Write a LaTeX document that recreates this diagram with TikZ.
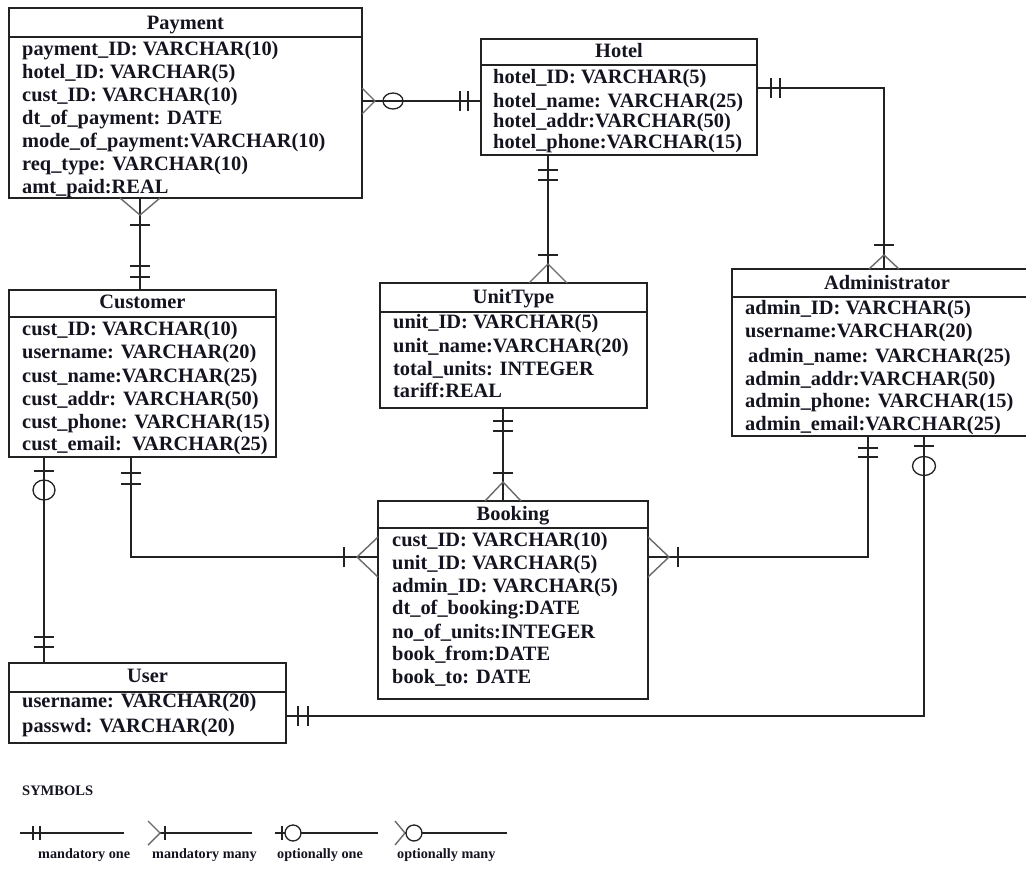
\documentclass[tikz,border=0pt]{standalone}
\usepackage{fontspec}
\setmainfont{Liberation Serif}
\definecolor{boxc}{HTML}{222222}
\definecolor{crowc}{HTML}{6A6A6A}
\definecolor{txt}{HTML}{141420}
\begin{document}
\begin{tikzpicture}[x=1pt,y=-1pt,
  box/.style={draw=boxc, line width=1.5pt, inner sep=0pt, outer sep=0pt, anchor=north west},
  sepline/.style={draw=boxc, line width=1.5pt},
  fld/.style={anchor=base west, inner sep=0pt, text=txt, font=\bfseries\fontsize{20.4}{23}\selectfont},
  ttl/.style={anchor=base, inner sep=0pt, text=txt, font=\bfseries\fontsize{20.4}{23}\selectfont},
  leg/.style={anchor=base west, inner sep=0pt, text=txt, font=\bfseries\fontsize{14.2}{16}\selectfont},
  conn/.style={draw=boxc, line width=1.3pt},
  crowline/.style={draw=crowc, line width=1.4pt},
  pics/crow/.style 2 args={code={\draw[crowline] (0,#1) -- (#2,0) -- (0,-#1);}},
  pics/bar/.style={code={\draw[conn] (#1,-10) -- (#1,10);}},
  pics/ring/.style n args={3}{code={\draw[conn] (#1,0) ellipse[x radius=#2pt, y radius=#3pt];}},
]
\clip (0,0) rectangle (1026,873);
\fill[white] (0,0) rectangle (1026,873);

% ---------- Payment ----------
\node[box, minimum width=353pt, minimum height=190pt] (pay) at (9,8) {};
\draw[sepline] (pay.west |- 0,37) -- (pay.east |- 0,37);
\node[ttl] (payT) at (pay.north |- 0,29) {Payment};
\node[fld] (pay1) at (22,55) {payment\_ID: VARCHAR(10)};
\node[fld] (pay2) at (22,78) {hotel\_ID: VARCHAR(5)};
\node[fld] (pay3) at (22,101) {cust\_ID: VARCHAR(10)};
\node[fld] (pay4) at (22,124) {dt\_of\_payment: DATE};
\node[fld] (pay5) at (22,147) {mode\_of\_payment:VARCHAR(10)};
\node[fld] (pay6) at (22,170) {req\_type: VARCHAR(10)};
\node[fld] (pay7) at (22,193) {amt\_paid:REAL};

% ---------- Hotel ----------
\node[box, minimum width=276pt, minimum height=116pt] (hot) at (481,39) {};
\draw[sepline] (hot.west |- 0,65) -- (hot.east |- 0,65);
\node[ttl] (hotT) at (hot.north |- 0,57) {Hotel};
\node[fld] (hot1) at (493,83) {hotel\_ID: VARCHAR(5)};
\node[fld] (hot2) at (493,107) {hotel\_name: VARCHAR(25)};
\node[fld] (hot3) at (493,127) {hotel\_addr:VARCHAR(50)};
\node[fld] (hot4) at (493,148) {hotel\_phone:VARCHAR(15)};

% ---------- UnitType ----------
\node[box, minimum width=267pt, minimum height=125pt] (uni) at (380,283) {};
\draw[sepline] (uni.west |- 0,312) -- (uni.east |- 0,312);
\node[ttl] (uniT) at (uni.north |- 0,303) {UnitType};
\node[fld] (uni1) at (393,328) {unit\_ID: VARCHAR(5)};
\node[fld] (uni2) at (393,352) {unit\_name:VARCHAR(20)};
\node[fld] (uni3) at (393,375) {total\_units: INTEGER};
\node[fld] (uni4) at (393,397) {tariff:REAL};

% ---------- Administrator ----------
\node[box, minimum width=314pt, minimum height=167pt] (adm) at (732,269) {};
\draw[sepline] (adm.west |- 0,297) -- (adm.east |- 0,297);
\node[ttl] (admT) at (887,289) {Administrator};
\node[fld] (adm1) at (745,314) {admin\_ID: VARCHAR(5)};
\node[fld] (adm2) at (745,337) {username:VARCHAR(20)};
\node[fld] (adm3) at (748,362) {admin\_name: VARCHAR(25)};
\node[fld] (adm4) at (745,385) {admin\_addr:VARCHAR(50)};
\node[fld] (adm5) at (745,407) {admin\_phone: VARCHAR(15)};
\node[fld] (adm6) at (745,430) {admin\_email:VARCHAR(25)};

% ---------- Customer ----------
\node[box, minimum width=267pt, minimum height=167pt] (cus) at (9,290) {};
\draw[sepline] (cus.west |- 0,317) -- (cus.east |- 0,317);
\node[ttl] (cusT) at (cus.north |- 0,308) {Customer};
\node[fld] (cus1) at (22,335) {cust\_ID: VARCHAR(10)};
\node[fld] (cus2) at (22,358) {username: VARCHAR(20)};
\node[fld] (cus3) at (22,382) {cust\_name:VARCHAR(25)};
\node[fld] (cus4) at (22,405) {cust\_addr: VARCHAR(50)};
\node[fld] (cus5) at (22,428) {cust\_phone: VARCHAR(15)};
\node[fld] (cus6) at (22,450) {cust\_email: \,VARCHAR(25)};

% ---------- Booking ----------
\node[box, minimum width=270pt, minimum height=198pt] (boo) at (378,501) {};
\draw[sepline] (boo.west |- 0,528) -- (boo.east |- 0,528);
\node[ttl] (booT) at (boo.north |- 0,520) {Booking};
\node[fld] (boo1) at (392,546) {cust\_ID: VARCHAR(10)};
\node[fld] (boo2) at (392,569) {unit\_ID: VARCHAR(5)};
\node[fld] (boo3) at (392,592) {admin\_ID: VARCHAR(5)};
\node[fld] (boo4) at (392,614) {dt\_of\_booking:DATE};
\node[fld] (boo5) at (392,638) {no\_of\_units:INTEGER};
\node[fld] (boo6) at (392,660) {book\_from:DATE};
\node[fld] (boo7) at (392,683) {book\_to: DATE};

% ---------- User ----------
\node[box, minimum width=277pt, minimum height=80pt] (usr) at (9,663) {};
\draw[sepline] (usr.west |- 0,692) -- (usr.east |- 0,692);
\node[ttl] (usrT) at (usr.north |- 0,682) {User};
\node[fld] (usr1) at (22,707) {username: VARCHAR(20)};
\node[fld] (usr2) at (22,732) {passwd: VARCHAR(20)};

% ---------- Connectors ----------
% Payment - Hotel
\coordinate (e1a) at (pay.east |- 0,101);
\coordinate (e1b) at (hot.west |- 0,101);
\draw[conn] (e1a) -- (e1b);
\pic at (e1a) {crow={13}{13}};
\pic at (e1a) {ring={31}{10}{8}};
\pic[rotate=180] at (e1b) {bar=13};
\pic[rotate=180] at (e1b) {bar=21};

% Payment - Customer
\coordinate (e2a) at (pay.south -| 140,0);
\coordinate (e2b) at (cus.north -| 140,0);
\draw[conn] (e2a) -- (e2b);
\pic[rotate=-90] at (e2a) {crow={20}{17}};
\pic[rotate=-90] at (e2a) {bar=27};
\pic[rotate=90] at (e2b) {bar=13};
\pic[rotate=90] at (e2b) {bar=24};

% Hotel - UnitType
\coordinate (e3a) at (hot.south -| 548,0);
\coordinate (e3b) at (uni.north -| 548,0);
\draw[conn] (e3a) -- (e3b);
\pic[rotate=-90] at (e3a) {bar=15};
\pic[rotate=-90] at (e3a) {bar=25};
\pic[rotate=90] at (e3b) {crow={19}{19}};
\pic[rotate=90] at (e3b) {bar=28};

% Hotel - Administrator
\coordinate (e4a) at (hot.east |- 0,88);
\coordinate (e4b) at (adm.north -| 884,0);
\draw[conn] (e4a) -| (e4b);
\pic at (e4a) {bar=14};
\pic at (e4a) {bar=23};
\pic[rotate=90] at (e4b) {crow={15}{14}};
\pic[rotate=90] at (e4b) {bar=24};

% UnitType - Booking
\coordinate (e5a) at (uni.south -| 503,0);
\coordinate (e5b) at (boo.north -| 503,0);
\draw[conn] (e5a) -- (e5b);
\pic[rotate=-90] at (e5a) {bar=13};
\pic[rotate=-90] at (e5a) {bar=23};
\pic[rotate=90] at (e5b) {crow={18}{19}};
\pic[rotate=90] at (e5b) {bar=28};

% Customer - Booking
\coordinate (e6a) at (cus.south -| 131,0);
\coordinate (e6b) at (boo.west |- 0,557);
\draw[conn] (e6a) |- (e6b);
\pic[rotate=-90] at (e6a) {bar=16};
\pic[rotate=-90] at (e6a) {bar=27};
\pic[rotate=180] at (e6b) {crow={20}{21}};
\pic[rotate=180] at (e6b) {bar=34};

% Booking - Administrator
\coordinate (e7a) at (boo.east |- 0,557);
\coordinate (e7b) at (adm.south -| 868,0);
\draw[conn] (e7a) -| (e7b);
\pic at (e7a) {crow={20}{21}};
\pic at (e7a) {bar=30};
\pic[rotate=-90] at (e7b) {bar=12};
\pic[rotate=-90] at (e7b) {bar=21};

% Administrator - User
\coordinate (e8a) at (adm.south -| 924,0);
\coordinate (e8b) at (usr.east |- 0,716);
\draw[conn] (e8a) |- (e8b);
\pic[rotate=-90] at (e8a) {bar=10};
\pic[rotate=-90] at (e8a) {ring={30}{9.5}{11.5}};
\pic at (e8b) {bar=12};
\pic at (e8b) {bar=22};

% Customer - User
\coordinate (e9a) at (cus.south -| 44,0);
\coordinate (e9b) at (usr.north -| 44,0);
\draw[conn] (e9a) -- (e9b);
\pic[rotate=-90] at (e9a) {bar=14};
\pic[rotate=-90] at (e9a) {ring={33}{10}{11}};
\pic[rotate=90] at (e9b) {bar=16};
\pic[rotate=90] at (e9b) {bar=26};

% ---------- Legend ----------
\node[leg, font=\bfseries\fontsize{14.5}{16}\selectfont] (sym) at (22,795) {SYMBOLS};
% mandatory one
\draw[conn] (20,833) -- (124,833);
\draw[conn] (33,826) -- (33,840);
\draw[conn] (40,826) -- (40,840);
% mandatory many
\draw[conn] (160,833) -- (252,833);
\draw[crowline] (148,821) -- (160,833) -- (148,845);
\draw[conn] (165,826) -- (165,840);
% optionally one
\draw[conn] (275,833) -- (378,833);
\draw[conn] (282,826) -- (282,840);
\draw[conn, fill=white] (293,833) circle[radius=8pt];
% optionally many
\draw[conn] (405,833) -- (507,833);
\draw[crowline] (395,821) -- (405,833) -- (395,845);
\draw[conn, fill=white] (414,833) circle[radius=8pt];
\node[leg] (l1) at (38,858) {mandatory one};
\node[leg] (l2) at (152,858) {mandatory many};
\node[leg] (l3) at (277,858) {optionally one};
\node[leg] (l4) at (397,858) {optionally many};
\end{tikzpicture}
\end{document}
